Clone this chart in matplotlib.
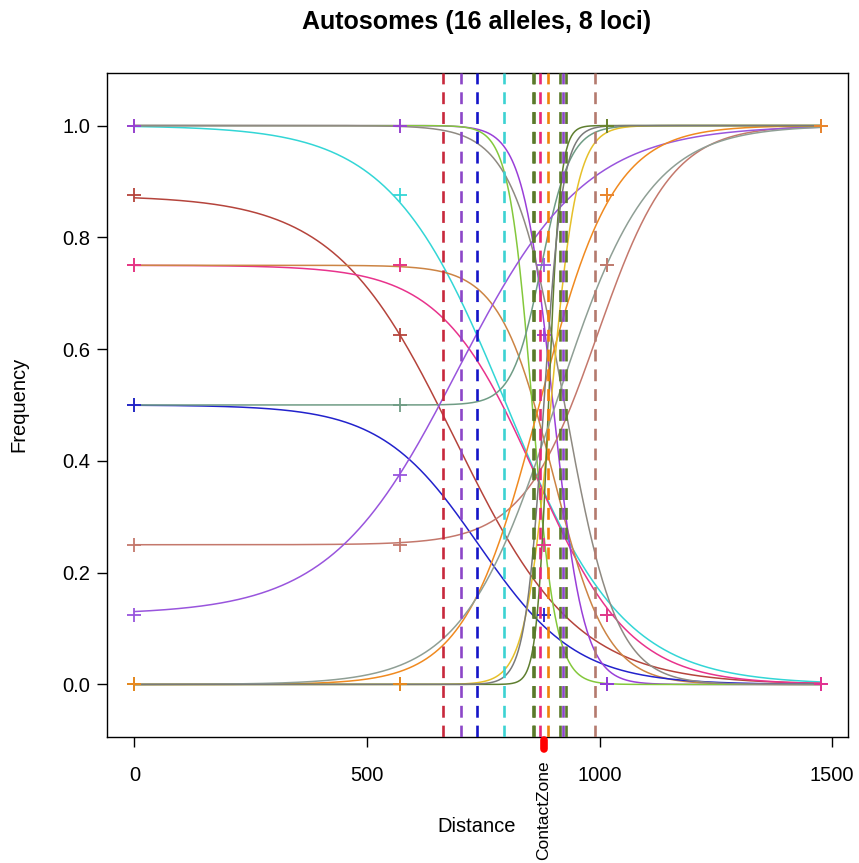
import numpy as np
import matplotlib.pyplot as plt
import matplotlib.transforms as mtransforms

plt.rcParams['font.family'] = ['Liberation Sans', 'DejaVu Sans']

# sampling sites along the transect and the contact zone
sites = [0, 570, 880, 1015, 1475]
contact_zone = 880

# one entry per allele: colour, freq at left end, freq at right end, cline centre, cline width
allele_cols = ['#33D6D6', '#B5443C', '#E8338C', '#CC8444', '#2222CC', '#9A3FD8', '#84C83C', '#8F8A82',
               '#6F9C85', '#C4786C', '#9955DD', '#F08A20', '#E6C02A', '#5F7F30', '#8F9F95', '#7A7A7A']
left_freq = [1.0, 0.875, 0.75, 0.75, 0.5, 1.0, 1.0, 1.0,
             0.5, 0.25, 0.125, 0.0, 0.0, 0.0, 0.0, 0.0]
right_freq = [0.0, 0.0, 0.0, 0.0, 0.0, 0.0, 0.0, 0.0,
              1.0, 1.0, 1.0, 1.0, 1.0, 1.0, 1.0, 1.0]
centres = [800, 690, 862, 900, 740, 900, 855, 925,
           875, 995, 695, 870, 895, 890, 905, 880]
widths = [500, 520, 410, 230, 420, 130, 100, 220,
          125, 320, 548, 320, 110, 50, 400, 80]

# observed frequencies at the sites (nan = not shown)
nan = np.nan
observed = [
    [1.0, 0.875, nan, 0.125, 0.0],
    [0.875, 0.625, nan, 0.0, 0.0],
    [0.75, 0.75, 0.25, 0.125, 0.0],
    [0.75, 0.75, nan, 0.0, 0.0],
    [0.5, nan, 0.125, 0.0, 0.0],
    [1.0, 1.0, 0.625, 0.0, 0.0],
    [1.0, 1.0, nan, 0.0, 0.0],
    [1.0, 1.0, nan, 0.125, 0.0],
    [0.5, 0.5, nan, 1.0, 1.0],
    [0.25, 0.25, nan, 0.75, 1.0],
    [0.125, 0.375, 0.75, 0.875, 1.0],
    [0.0, 0.0, nan, 0.875, 1.0],
    [0.0, 0.0, nan, 1.0, 1.0],
    [0.0, 0.0, nan, 1.0, 1.0],
    [0.0, 0.0, nan, 0.75, 1.0],
    [0.0, 0.0, nan, 1.0, 1.0],
]
# order in which the point markers are stacked (last one on top)
marker_order = [0, 6, 7, 1, 3, 8, 4, 5, 2, 14, 15, 12, 13, 9, 10, 11]

# estimated cline centres (dashed lines)
centre_lines = [664, 701, 737, 795, 856, 860, 872, 888, 915, 921, 928, 990]
centre_cols = ['#C8283C', '#8C46C8', '#1414C8', '#3CD2D2', '#5A7A2A', '#5A7A2A', '#E6287A', '#F0820A',
               '#5A7A2A', '#8C46C8', '#5A7A2A', '#B47A6E']

fig = plt.figure(figsize=(8.59, 8.63), dpi=100)
ax = fig.add_axes([0.1246, 0.146, 0.8626, 0.7694])

x = np.linspace(0, 1475, 800)
for i in range(len(allele_cols)):
    s = (1 + np.tanh(2 * (x - centres[i]) / widths[i])) / 2
    y = left_freq[i] + (right_freq[i] - left_freq[i]) * s
    ax.plot(x, y, color=allele_cols[i], lw=1.1, zorder=2)

for i in marker_order:
    ax.plot(sites, observed[i], ls='none', marker='+', ms=10, mew=1.3,
            color=allele_cols[i], zorder=3)

for xc, c in zip(centre_lines, centre_cols):
    ax.axvline(xc, color=c, lw=1.9, ls=(0, (4.5, 3)), zorder=4)

ax.set_xlim(-59, 1534)
ax.set_ylim(-0.094, 1.094)
ax.set_xticks([0, 500, 1000, 1500])
ax.set_yticks([0, 0.2, 0.4, 0.6, 0.8, 1.0])
ax.set_yticklabels(['0.0', '0.2', '0.4', '0.6', '0.8', '1.0'])
ax.tick_params(direction='out', length=7, width=1, labelsize=14.5)
ax.tick_params(axis='x', pad=14)
ax.tick_params(axis='y', pad=5)
for sp in ax.spines.values():
    sp.set_linewidth(1)

# contact zone tick and label
trans = mtransforms.blended_transform_factory(ax.transData, ax.transAxes)
ax.plot([contact_zone, contact_zone], [-0.004, -0.018], transform=trans, color='red',
        lw=5.5, solid_capstyle='round', clip_on=False, zorder=5)
ax.text(contact_zone, -0.035, 'ContactZone', transform=trans, rotation=90,
        ha='center', va='top', fontsize=12.5)

fig.text(477 / 859, 1 - 22 / 863, 'Autosomes (16 alleles, 8 loci)', ha='center', va='center',
         fontsize=18, fontweight='bold')
fig.text(477 / 859, 1 - 826 / 863, 'Distance', ha='center', va='center', fontsize=14.5)
fig.text(19 / 859, 1 - 404 / 863, 'Frequency', ha='center', va='center', rotation=90, fontsize=14.5)

fig.savefig('out.png', dpi=100)
